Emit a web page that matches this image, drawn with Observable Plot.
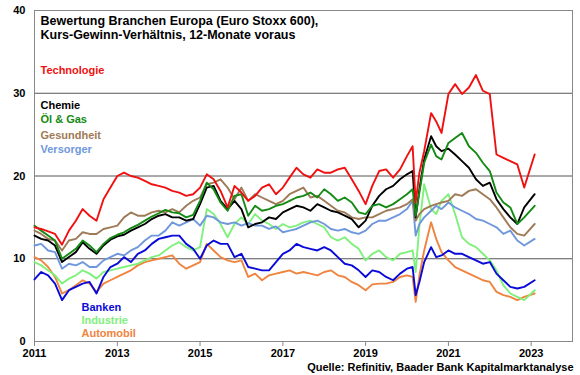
<!DOCTYPE html>
<html>
<head>
<meta charset="utf-8">
<script src="https://cdn.jsdelivr.net/npm/d3@7"></script>
<script src="https://cdn.jsdelivr.net/npm/@observablehq/plot@0.6"></script>
<style>
  html, body { margin: 0; padding: 0; background: #fff; }
  #chart svg { display: block; }
</style>
</head>
<body>
<div id="chart"></div>
<script>
const dates = [
  "2011-01","2011-03","2011-05","2011-07","2011-09","2011-11",
  "2012-01","2012-03","2012-05","2012-07","2012-09","2012-11",
  "2013-01","2013-03","2013-05","2013-07","2013-09","2013-11",
  "2014-01","2014-03","2014-05","2014-07","2014-09","2014-11",
  "2015-01","2015-03","2015-05","2015-07","2015-09","2015-11",
  "2016-01","2016-03","2016-05","2016-07","2016-09","2016-11",
  "2017-01","2017-03","2017-05","2017-07","2017-09","2017-11",
  "2018-01","2018-03","2018-05","2018-07","2018-09","2018-11",
  "2019-01","2019-03","2019-05","2019-07","2019-09","2019-11",
  "2020-01-01","2020-02-20","2020-03-18","2020-04-20","2020-06-01","2020-08-01","2020-09-15","2020-11-01",
  "2021-01","2021-03","2021-05","2021-07","2021-09","2021-11",
  "2022-01","2022-03","2022-05","2022-07","2022-09","2022-11",
  "2023-02"
];

const technologie = [
  13.8,13.6,13.3,13.0,11.7,13.4,
  14.6,16.0,15.2,14.6,17.2,18.6,
  20.0,20.4,20.0,19.8,19.4,19.0,
  18.8,18.6,18.2,18.0,17.6,17.8,
  18.6,20.2,19.6,18.2,16.2,18.8,
  18.0,17.0,17.6,18.6,19.0,17.8,
  18.6,19.8,21.0,20.2,19.8,20.8,
  20.4,20.4,20.8,21.0,19.6,18.2,
  16.6,18.8,20.6,20.8,19.8,20.8,
  22.4,23.6,16.8,20.4,23.0,27.6,26.6,25.2,
  29.9,31.1,29.9,30.7,32.2,30.3,
  29.9,22.6,22.2,21.8,21.4,18.6,
  22.6
];
const chemie = [
  12.8,12.4,12.2,11.6,9.6,10.2,
  10.8,12.0,11.2,10.6,11.6,12.3,
  12.7,12.9,13.4,13.8,14.2,14.8,
  15.2,15.4,15.0,15.0,14.6,14.8,
  16.6,18.6,18.8,17.0,16.0,17.0,
  16.0,13.8,14.2,14.4,15.0,14.8,
  15.6,16.0,16.4,16.2,15.8,16.6,
  16.2,15.8,15.6,15.2,14.8,13.8,
  14.6,16.4,17.6,18.4,18.8,19.6,
  20.2,20.6,15.0,18.4,22.0,24.8,23.6,23.0,
  23.3,22.6,21.8,21.0,19.6,18.8,
  19.2,17.2,16.0,15.0,14.2,16.2,
  17.8
];
const oelGas = [
  14.0,13.4,12.8,12.2,10.0,10.6,
  11.2,12.2,11.6,10.8,11.8,12.5,
  12.9,13.2,13.7,14.1,14.6,15.1,
  15.5,15.9,15.6,15.5,15.0,15.3,
  17.0,19.2,18.4,16.8,15.8,17.6,
  17.8,15.2,16.4,15.8,16.0,16.4,
  16.6,17.0,17.4,17.6,18.0,17.4,
  18.4,17.8,17.0,17.4,16.8,15.6,
  15.4,16.4,16.6,16.2,16.6,17.2,
  17.8,18.4,15.2,18.0,21.6,23.8,22.4,22.0,
  24.0,24.6,25.2,23.6,22.8,21.6,
  20.6,18.0,16.8,16.2,14.2,15.0,
  16.4
];
const gesundheit = [
  13.4,13.0,12.4,12.2,11.0,12.2,
  12.4,13.2,13.0,13.0,13.6,13.8,
  14.0,15.0,15.6,15.2,15.2,15.6,
  15.8,15.6,16.0,15.6,16.4,17.0,
  17.4,19.0,19.2,19.6,18.6,17.2,
  18.6,17.0,17.8,17.4,17.0,16.6,
  17.0,17.8,18.2,18.6,17.4,17.6,
  17.0,16.4,15.8,15.6,15.0,14.8,
  15.0,15.0,15.4,15.8,16.0,16.2,
  16.6,17.2,14.6,15.4,16.0,16.4,16.6,16.8,
  17.0,17.8,17.6,18.2,18.4,17.8,
  17.2,16.2,15.0,13.8,13.0,12.8,
  14.2
];
const versorger = [
  11.6,11.8,11.0,10.8,8.8,9.4,
  9.2,9.6,9.0,9.0,9.8,10.2,
  10.6,10.4,11.0,11.4,12.2,12.8,
  12.8,13.4,14.4,14.0,14.4,14.8,
  14.0,15.2,15.0,14.4,14.2,14.4,
  14.0,14.3,14.0,14.0,13.6,13.9,
  13.2,13.4,13.6,14.0,14.4,14.6,
  14.2,13.6,13.4,13.6,13.2,13.0,
  13.4,14.2,14.6,14.6,15.0,15.4,
  16.0,17.0,12.8,14.2,15.0,15.8,16.4,16.0,
  16.8,16.2,15.8,15.4,14.8,14.6,
  14.2,13.8,13.0,13.4,12.2,11.6,
  12.4
];
const banken = [
  7.5,8.4,8.0,7.0,5.0,6.2,
  6.6,7.0,7.2,5.8,7.8,9.0,
  9.4,10.2,9.6,10.6,11.0,11.8,
  12.4,12.6,12.8,12.8,11.8,11.2,
  10.0,11.6,12.2,11.8,11.8,10.2,
  10.6,9.0,8.8,8.6,8.6,9.6,
  10.6,11.0,11.8,11.4,11.2,11.0,
  11.4,11.0,10.2,9.4,9.2,8.6,
  7.8,8.6,8.4,7.8,7.4,8.2,
  8.8,9.0,5.6,7.2,9.6,11.4,10.2,10.4,
  11.0,10.6,10.6,10.2,9.8,9.4,
  9.6,8.2,7.4,6.6,6.4,6.6,
  7.4
];
const industrie = [
  9.6,9.2,8.6,8.0,7.0,7.6,
  8.0,8.6,8.2,7.6,8.4,8.6,
  8.8,9.0,9.2,9.4,9.8,10.2,
  10.4,11.0,11.6,12.0,11.4,11.0,
  11.4,16.0,15.4,14.2,12.6,14.2,
  15.0,14.2,15.4,14.6,14.2,13.6,
  14.2,13.8,14.0,14.4,14.6,14.2,
  13.8,12.6,12.2,12.6,11.8,11.2,
  9.8,10.6,11.0,10.2,9.8,10.6,
  10.8,11.0,8.4,14.0,19.0,16.0,15.4,17.0,
  17.8,15.4,12.6,11.8,11.4,10.6,
  9.8,8.6,6.8,5.8,5.4,5.0,
  6.2
];
const automobil = [
  10.2,9.8,9.0,7.8,5.8,6.2,
  6.8,7.4,7.0,6.0,7.0,7.4,
  7.8,8.2,8.6,9.2,9.6,9.8,
  10.0,10.2,10.4,9.4,8.8,9.2,
  9.6,11.8,11.0,10.2,9.8,9.6,
  9.8,7.8,8.2,7.4,8.0,8.2,
  8.4,8.6,8.2,8.4,8.2,8.0,
  8.4,8.6,8.0,7.8,7.2,6.8,
  6.2,6.9,7.0,7.0,7.2,7.8,
  8.0,7.8,4.8,8.0,11.0,14.4,12.4,10.8,
  9.8,9.0,8.6,8.2,7.8,7.4,
  7.2,6.0,5.6,5.4,5.0,5.4,
  5.8
];

const xTickYears = [2011, 2013, 2015, 2017, 2019, 2021, 2023];
const yTicks = [0, 10, 20, 30, 40];
const gridValues = [10, 20, 30];

const titleText = "Bewertung Branchen Europa (Euro Stoxx 600),\nKurs-Gewinn-Verhältnis, 12-Monate voraus";
const sourceText = "Quelle: Refinitiv, Baader Bank Kapitalmarktanalyse";

// series in drawing order (bottom first)
const series = [
  {name: "Automobil", values: automobil, color: "#f0843e"},
  {name: "Industrie", values: industrie, color: "#80f07c"},
  {name: "Banken", values: banken, color: "#0a0ad8"},
  {name: "Versorger", values: versorger, color: "#6f98dc"},
  {name: "Gesundheit", values: gesundheit, color: "#9f7a56"},
  {name: "Chemie", values: chemie, color: "#000000"},
  {name: "Öl & Gas", values: oelGas, color: "#138a13"},
  {name: "Technologie", values: technologie, color: "#f01010"}
];

const parsedDates = dates.map(s => new Date(s.length === 7 ? s + "-01T00:00:00Z" : s + "T00:00:00Z"));
const colorOf = Object.fromEntries(series.map(s => [s.name, s.color]));

const font = "'Liberation Sans', Arial, sans-serif";

const lineMarks = series.map(s =>
  Plot.line(parsedDates.map((d, i) => ({date: d, value: s.values[i]})), {
    x: "date", y: "value", stroke: s.color, strokeWidth: 1.9, strokeLinejoin: "round"
  })
);

const labelTop = [
  ["Technologie", 60],
  ["Chemie", 95],
  ["Öl & Gas", 109],
  ["Gesundheit", 125],
  ["Versorger", 139]
];
const labelBottom = [
  ["Banken", -34],
  ["Industrie", -21],
  ["Automobil", -8]
];

const chart = Plot.plot({
  width: 580,
  height: 375,
  marginLeft: 34,
  marginRight: 8,
  marginTop: 10,
  marginBottom: 34,
  style: {fontFamily: font, fontSize: "11px", color: "#000", background: "#fff"},
  x: {type: "utc", domain: [new Date("2011-01-01T00:00:00Z"), new Date("2024-01-01T00:00:00Z")]},
  y: {domain: [0, 40]},
  marks: [
    Plot.ruleY(gridValues, {stroke: "#555", strokeWidth: 1}),
    Plot.frame({stroke: "#888", strokeWidth: 1}),
    Plot.axisY(yTicks, {tickSize: 0, tickPadding: 9, fontWeight: "bold", fontSize: 11, label: null}),
    Plot.axisX(xTickYears.map(y => new Date(Date.UTC(y, 0, 1))), {
      tickSize: 5, tickPadding: 3, tickFormat: d => String(d.getUTCFullYear()),
      fontWeight: "bold", fontSize: 11, label: null, stroke: "#888"
    }),
    ...lineMarks,
    Plot.text([titleText], {
      frameAnchor: "top-left", dx: 6, dy: 5, textAnchor: "start", lineAnchor: "top",
      fontWeight: "bold", fontSize: 12.5, lineHeight: 1.12, fill: "#000"
    }),
    ...labelTop.map(([name, dy]) => Plot.text([name], {
      frameAnchor: "top-left", dx: 6, dy, textAnchor: "start", lineAnchor: "middle",
      fontWeight: "bold", fontSize: 11, fill: colorOf[name]
    })),
    ...labelBottom.map(([name, dy]) => Plot.text([name], {
      frameAnchor: "bottom-left", dx: 47, dy, textAnchor: "start", lineAnchor: "middle",
      fontWeight: "bold", fontSize: 11, fill: colorOf[name]
    })),
    Plot.text([sourceText], {
      frameAnchor: "bottom-right", dx: 1, dy: 29, textAnchor: "end", lineAnchor: "bottom",
      fontWeight: "bold", fontSize: 11, fill: "#000"
    })
  ]
});

document.getElementById("chart").appendChild(chart);
</script>
</body>
</html>
